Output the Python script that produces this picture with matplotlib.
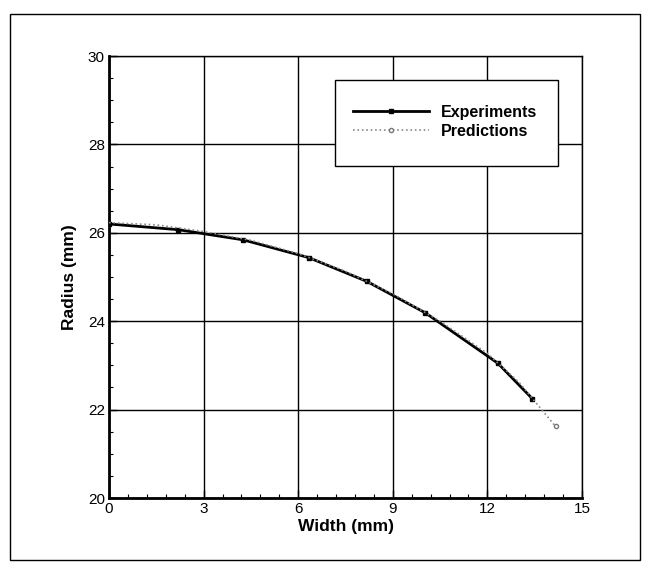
import matplotlib
matplotlib.use("Agg")
import matplotlib.pyplot as plt
from matplotlib.ticker import MultipleLocator
from matplotlib.patches import Rectangle

exp_x = [0.0, 2.2, 4.26, 6.33, 8.18, 10.03, 12.33, 13.42]
exp_y = [26.2, 26.07, 25.84, 25.44, 24.9, 24.19, 23.05, 22.25]
pred_x = [0.0, 1.5, 3.0, 4.5, 6.0, 7.5, 9.0, 10.5, 12.0, 13.0, 14.16]
pred_y = [26.23, 26.18, 26.03, 25.83, 25.53, 25.13, 24.62, 24.0, 23.27, 22.62, 21.62]
xticks = [0, 3, 6, 9, 12, 15]
yticks = [20, 22, 24, 26, 28, 30]

tick_font = ['Liberation Sans Narrow', 'Liberation Sans', 'DejaVu Sans']
bold_font = ['Liberation Sans', 'DejaVu Sans']

W, H = 649, 575
fig = plt.figure(figsize=(W/100, H/100), dpi=100)
fig.patches.append(Rectangle((10/W, 1-560/H), 630/W, 546/H, transform=fig.transFigure,
                             fill=False, edgecolor='black', linewidth=1.0))
ax_l, ax_r, ax_t, ax_b = 109, 582, 56, 498
ax = fig.add_axes([ax_l/W, 1-ax_b/H, (ax_r-ax_l)/W, (ax_b-ax_t)/H])

def ax_frac(px, py):
    return (px-ax_l)/(ax_r-ax_l), (ax_b-py)/(ax_b-ax_t)

ax.plot(exp_x, exp_y, color='black', linewidth=2.0, marker='s', markersize=3.5, zorder=3,
        label='Experiments')
ax.plot(pred_x, pred_y, color='#888888', linewidth=1.2, linestyle=':', marker='o',
        markersize=3, markerfacecolor='white', markeredgecolor='#777777', zorder=4,
        markevery=[len(pred_x)-1], label='Predictions')

ax.set_xlim(0, 15)
ax.set_ylim(20, 30)
ax.set_xticks(xticks)
ax.set_yticks(yticks)
ax.xaxis.set_minor_locator(MultipleLocator(0.6))
ax.yaxis.set_minor_locator(MultipleLocator(0.5))
ax.tick_params(which='both', direction='in', top=False, right=False)
ax.tick_params(which='major', length=6, width=1.0, pad=3)
ax.tick_params(which='minor', length=3, width=0.8)
ax.grid(True, which='major', color='black', linewidth=1.0)
for s in ['left', 'bottom']:
    ax.spines[s].set_linewidth(2.0)
for s in ['top', 'right']:
    ax.spines[s].set_linewidth(1.0)

for lab in ax.get_xticklabels() + ax.get_yticklabels():
    lab.set_fontfamily(tick_font)
    lab.set_fontsize(11)

ax.set_xlabel('Width (mm)', fontfamily=bold_font, fontweight='bold', fontsize=12.5, labelpad=2)
ax.set_ylabel('Radius (mm)', fontfamily=bold_font, fontweight='bold', fontsize=12.5, labelpad=8)

# legend box
x0, y0 = ax_frac(335, 166)
x1, y1 = ax_frac(558, 80)
ax.add_patch(Rectangle((x0, y0), x1-x0, y1-y0, transform=ax.transAxes, facecolor='white',
                       edgecolor='black', linewidth=1.0, zorder=8, clip_on=False))

lx, ly = ax_frac(353, 122)
leg = ax.legend(loc='center left', bbox_to_anchor=(lx, ly), frameon=False,
                prop={'family': bold_font, 'weight': 'bold', 'size': 11.5},
                handlelength=4.75, handletextpad=0.75, borderpad=0, labelspacing=0.25,
                borderaxespad=0)
leg.set_zorder(10)

fig.savefig('out.png', dpi=100)
